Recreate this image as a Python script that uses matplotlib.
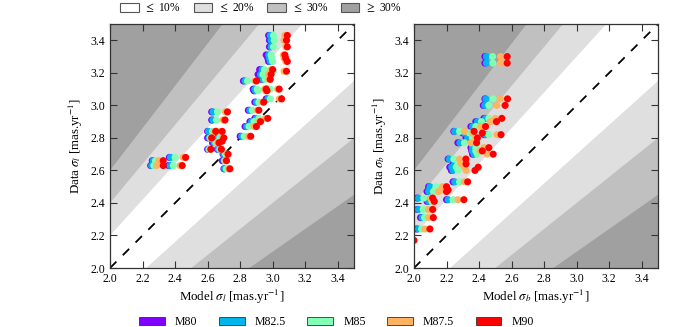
import numpy as np
import matplotlib
matplotlib.use("Agg")
import matplotlib.pyplot as plt
from matplotlib.patches import Patch

plt.rcParams['font.family'] = ['Liberation Serif', 'DejaVu Serif']
plt.rcParams['mathtext.fontset'] = 'stix'

models = ['M80', 'M82.5', 'M85', 'M87.5', 'M90']
model_cols = [plt.cm.rainbow(v) for v in [0.0, 0.25, 0.5, 0.75, 1.0]]

# --- sigma_l panel: observed value and model value per model
obs_l = [3.43, 3.40, 3.36, 3.31, 3.29, 3.27, 3.22, 3.21, 3.19, 3.16, 3.15, 3.10, 3.09,
         3.10, 3.04, 3.02, 2.97, 2.92, 2.90, 2.87, 2.81, 2.96, 2.91, 2.84, 2.84, 2.80,
         2.80, 2.77, 2.78, 2.73, 2.73, 2.70, 2.66, 2.61, 2.68, 2.66, 2.63, 2.63]
m80_l = [2.975, 2.98, 2.98, 2.96, 2.97, 2.975, 2.92, 2.98, 2.91, 2.93, 2.82, 2.88, 2.885,
         2.96, 2.96, 2.89, 2.85, 2.89, 2.86, 2.83, 2.80, 2.625, 2.625, 2.60, 2.65, 2.60,
         2.66, 2.63, 2.66, 2.60, 2.66, 2.695, 2.69, 2.70, 2.365, 2.26, 2.25, 2.36]
m825_l = [2.985, 2.99, 2.99, 2.975, 2.98, 2.985, 2.935, 2.99, 2.925, 2.94, 2.83, 2.89, 2.895,
          2.97, 2.97, 2.90, 2.86, 2.90, 2.87, 2.84, 2.81, 2.633, 2.633, 2.605, 2.66, 2.61,
          2.665, 2.64, 2.67, 2.605, 2.665, 2.70, 2.70, 2.705, 2.372, 2.266, 2.256, 2.368]
m85_l = [3.005, 3.01, 3.005, 2.99, 2.995, 3.0, 2.95, 3.005, 2.94, 2.955, 2.845, 2.905, 2.91,
         2.985, 2.985, 2.915, 2.875, 2.915, 2.885, 2.855, 2.825, 2.66, 2.655, 2.63, 2.67, 2.615,
         2.675, 2.65, 2.68, 2.61, 2.675, 2.71, 2.705, 2.715, 2.40, 2.28, 2.27, 2.389]
m875_l = [3.075, 3.07, 3.08, 3.065, 3.07, 3.08, 2.99, 3.07, 2.975, 2.975, 2.89, 2.95, 2.955,
          3.03, 3.04, 2.935, 2.905, 2.955, 2.915, 2.885, 2.85, 2.71, 2.695, 2.64, 2.68, 2.62,
          2.69, 2.66, 2.685, 2.615, 2.68, 2.72, 2.71, 2.73, 2.45, 2.30, 2.285, 2.43]
m90_l = [3.09, 3.085, 3.09, 3.075, 3.08, 3.09, 3.0, 3.085, 2.99, 2.985, 2.90, 2.96, 2.965,
         3.04, 3.055, 2.945, 2.915, 2.97, 2.925, 2.90, 2.865, 2.722, 2.707, 2.65, 2.69, 2.625,
         2.70, 2.67, 2.69, 2.62, 2.685, 2.726, 2.716, 2.737, 2.465, 2.327, 2.327, 2.444]

# --- sigma_b panel
obs_b = [3.30, 3.26, 3.04, 3.00, 2.92, 2.90, 2.87, 2.84, 2.83, 2.82, 2.80, 2.77, 2.74, 2.72,
         2.70, 2.67, 2.64, 2.62, 2.60, 2.53, 2.50, 2.48, 2.47, 2.43, 2.42, 2.41, 2.36, 2.31,
         2.24, 2.17]
m80_b = [2.436, 2.436, 2.436, 2.426, 2.43, 2.38, 2.35, 2.245, 2.30, 2.43, 2.32, 2.27, 2.35, 2.355,
         2.36, 2.21, 2.24, 2.22, 2.23, 2.24, 2.09, 2.09, 2.08, 2.02, 2.20, 2.08, 2.02, 2.04,
         2.016, 1.97]
m825_b = [2.445, 2.445, 2.442, 2.435, 2.44, 2.39, 2.36, 2.25, 2.31, 2.44, 2.33, 2.282, 2.36, 2.36,
          2.37, 2.217, 2.25, 2.232, 2.24, 2.25, 2.098, 2.095, 2.09, 2.027, 2.21, 2.09, 2.027, 2.05,
          2.026, 1.975]
m85_b = [2.483, 2.485, 2.487, 2.46, 2.46, 2.415, 2.38, 2.28, 2.34, 2.46, 2.36, 2.31, 2.38, 2.38,
         2.39, 2.245, 2.27, 2.26, 2.27, 2.28, 2.135, 2.13, 2.12, 2.06, 2.24, 2.11, 2.057, 2.065,
         2.047, 1.98]
m875_b = [2.532, 2.532, 2.53, 2.51, 2.50, 2.47, 2.41, 2.31, 2.36, 2.51, 2.38, 2.35, 2.43, 2.405,
          2.45, 2.28, 2.29, 2.31, 2.32, 2.31, 2.175, 2.17, 2.15, 2.10, 2.27, 2.12, 2.088, 2.09,
          2.067, 1.99]
m90_b = [2.573, 2.573, 2.575, 2.56, 2.54, 2.507, 2.44, 2.37, 2.42, 2.535, 2.39, 2.385, 2.46, 2.42,
         2.487, 2.319, 2.32, 2.395, 2.375, 2.33, 2.20, 2.21, 2.20, 2.115, 2.307, 2.125, 2.115, 2.119,
         2.098, 2.0]

band_labels = [r'$\leq$ 10%', r'$\leq$ 20%', r'$\leq$ 30%', r'$\geq$ 30%']
band_fracs = [0.1, 0.2, 0.3]
band_cols = ['white', '#dfdfdf', '#c0c0c0', '#a0a0a0']

fig = plt.figure(figsize=(6.98, 3.27), dpi=100)
ax1 = fig.add_axes([0.1576, 0.1804, 0.3496, 0.746])
ax2 = fig.add_axes([0.5931, 0.1804, 0.3496, 0.746])

panels = [
    (ax1, obs_l, [m80_l, m825_l, m85_l, m875_l, m90_l], 'l'),
    (ax2, obs_b, [m80_b, m825_b, m85_b, m875_b, m90_b], 'b'),
]

xx = np.linspace(1.9, 3.6, 10)
for ax, obs, mods, sub in panels:
    ax.set_facecolor(band_cols[3])
    for frac, col in zip(band_fracs[::-1], band_cols[2::-1]):
        ax.fill_between(xx, (1 - frac) * xx, (1 + frac) * xx, color=col, lw=0, zorder=0)
    ax.plot([2.0, 3.5], [2.0, 3.5], color='black', ls=(0, (5, 5)), lw=1.3, zorder=1)
    for vals, col in zip(mods, model_cols):
        ax.scatter(vals, obs, s=26, color=col, edgecolors='none', zorder=2)
    ax.set_xlim(2.0, 3.5)
    ax.set_ylim(2.0, 3.5)
    ax.set_xticks(np.arange(2.0, 3.45, 0.2))
    ax.set_yticks(np.arange(2.0, 3.45, 0.2))
    ax.tick_params(direction='in', top=True, right=True, length=5, width=0.8,
                   labelsize=8.5, color='#333333')
    ax.set_xlabel(r'Model $\sigma_%s$ [mas.yr$^{-1}$]' % sub, fontsize=9.3, labelpad=2)
    ax.set_ylabel(r'Data $\sigma_%s$ [mas.yr$^{-1}$]' % sub, fontsize=9.3, labelpad=4)
    for sp in ax.spines.values():
        sp.set_linewidth(0.9)
        sp.set_color('#333333')

top_handles = [Patch(facecolor=c, edgecolor='#555555', lw=0.8) for c in band_cols]
fig.legend(top_handles, band_labels, loc='center', bbox_to_anchor=(0.374, 0.976),
           ncol=4, frameon=False, fontsize=8.3, handlelength=1.6, handleheight=0.76,
           columnspacing=1.1, handletextpad=0.5, borderpad=0, borderaxespad=0)

bot_handles = [Patch(facecolor=c, edgecolor='#333333', lw=0.6) for c in model_cols]
fig.legend(bot_handles, models, loc='center', bbox_to_anchor=(0.482, 0.016),
           ncol=5, frameon=False, fontsize=8.5, handlelength=2.2, handleheight=0.68,
           columnspacing=1.8, handletextpad=0.85, borderpad=0, borderaxespad=0)

fig.savefig('out.png', dpi=100)
